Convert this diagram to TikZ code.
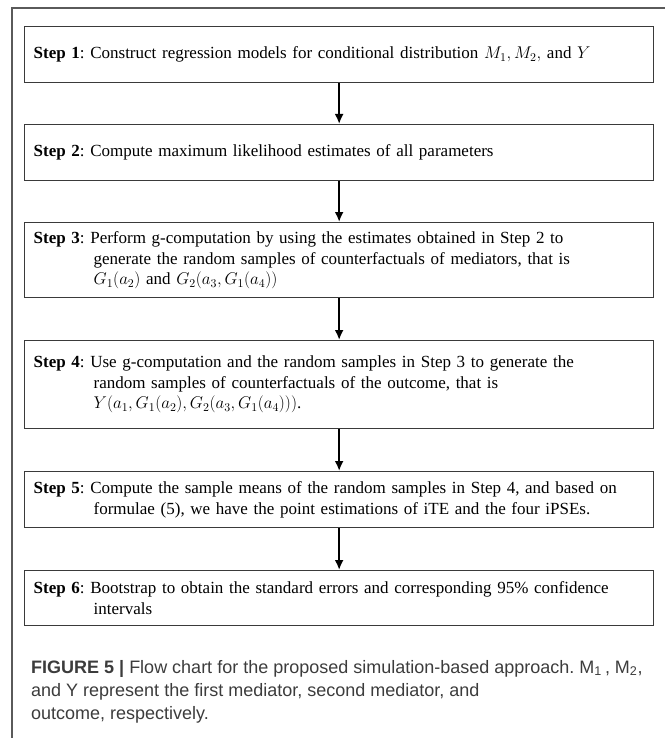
\RequirePackage{fix-cm}
\documentclass[tikz,border=0pt]{standalone}
\usepackage{fontspec}
\setmainfont{Liberation Serif}
\newfontfamily\capfont{Liberation Sans}
\usepackage{tikz}
\usetikzlibrary{arrows.meta}
\definecolor{myborder}{HTML}{3A3A3A}
\definecolor{myframe}{HTML}{5A5A5A}
\definecolor{mycaption}{HTML}{3C3C3C}
\newcommand{\steplead}{\hspace*{7pt}}
\newcommand{\stepgap}{\hspace*{67pt}}
\frenchspacing
\tikzset{
stepbox/.style={
draw=myborder,
line width=1.3pt,
anchor=north west,
text width=625pt,
inner xsep=2pt,
inner ysep=2pt,
align=left,
font=\fontsize{17}{20.5}\selectfont
},
captext/.style={
anchor=base west,
align=left,
inner sep=0pt,
text=mycaption,
font=\capfont\fontsize{18}{23}\selectfont
},
arrow/.style={
-{Latex[length=10pt,width=9pt]},
line width=2.4pt,
draw=black
}
}

\begin{document}
\begin{tikzpicture}[x=1pt,y=-1pt]
\useasboundingbox (0,0) rectangle (665,738);
\draw[draw=myframe, line width=1.2pt] (12,738) -- (12,8) -- (665,8);

\node[stepbox, minimum height=56pt] (s1) at (24,26)
  {\steplead\textbf{Step 1}: Construct regression models for conditional distribution $M_1, M_2,$ and $Y$};
\node[stepbox, minimum height=56pt] (s2) at (24,124)
  {\steplead\textbf{Step 2}: Compute maximum likelihood estimates of all parameters};
\node[stepbox, minimum height=75pt] (s3) at (24,222)
  {\steplead\textbf{Step 3}: Perform g-computation by using the estimates obtained in Step 2 to\\
   \stepgap generate the random samples of counterfactuals of mediators, that is\\
   \stepgap $G_1(a_2)$ and $G_2\big(a_3, G_1(a_4)\big)$};
\node[stepbox, minimum height=88pt] (s4) at (24,340)
  {\steplead\textbf{Step 4}: Use g-computation and the random samples in Step 3 to generate the\\
   \stepgap random samples of counterfactuals of the outcome, that is\\
   \stepgap $Y(a_1, G_1(a_2), G_2(a_3, G_1(a_4)))$.};
\node[stepbox, minimum height=56pt] (s5) at (24,471)
  {\steplead\textbf{Step 5}: Compute the sample means of the random samples in Step 4, and based on\\
   \stepgap formulae (5), we have the point estimations of iTE and the four iPSEs.};
\node[stepbox, minimum height=55pt] (s6) at (24,570)
  {\steplead\textbf{Step 6}: Bootstrap to obtain the standard errors and corresponding 95\% confidence\\
   \stepgap intervals};

\foreach \a/\b in {s1/s2, s2/s3, s3/s4, s4/s5, s5/s6} { \draw[arrow] (\a.south) -- (\b.north); }

\node[captext] (cap) at (31,719)
  {\textbf{FIGURE 5 |} Flow chart for the proposed simulation-based approach. M\textsubscript{1}\,, M\textsubscript{2},\\
   and Y represent the first mediator, second mediator, and\\
   outcome, respectively.};

\end{tikzpicture}
\end{document}
